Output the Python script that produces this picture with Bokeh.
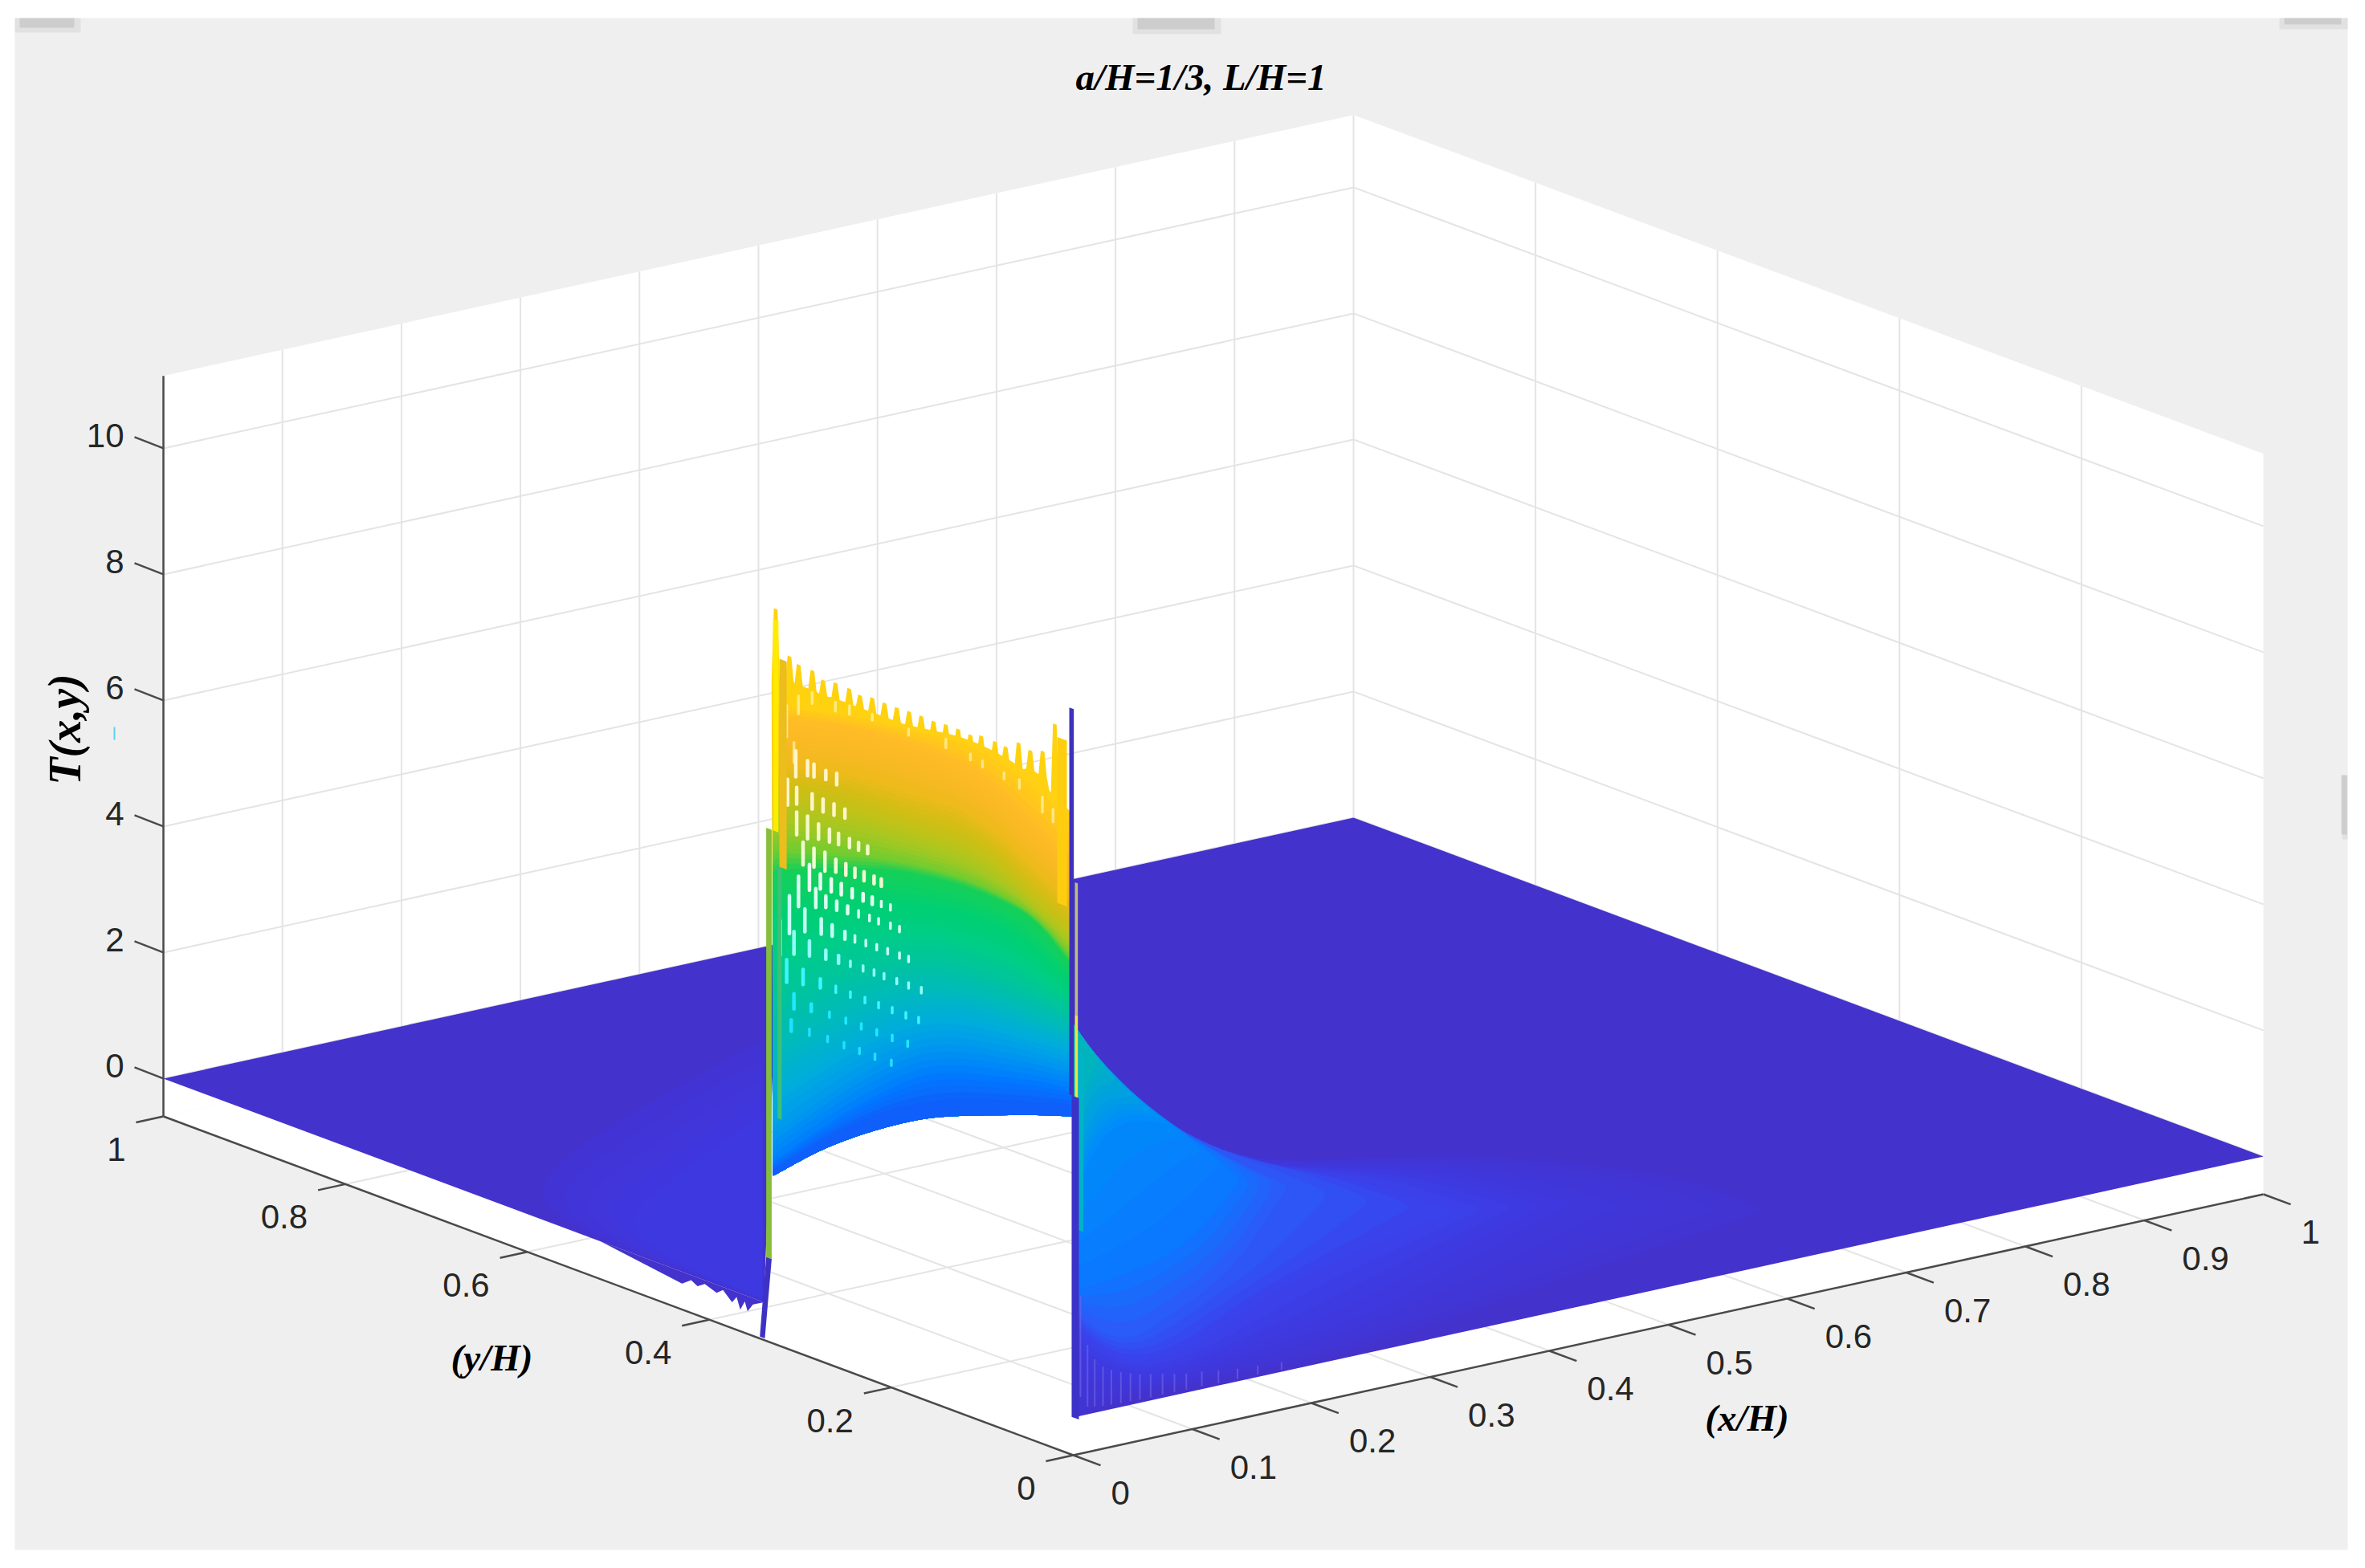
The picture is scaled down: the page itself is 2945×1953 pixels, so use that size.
from bokeh.plotting import figure
from bokeh.models import Range1d
from bokeh.core.properties import value
from bokeh.embed import file_html
from bokeh.resources import INLINE

TITLE = "a/H=1/3, L/H=1"
X_LABEL, Y_LABEL, Z_LABEL = "(x/H)", "(y/H)", "T(x,y)"
x_ticks = [0, .1, .2, .3, .4, .5, .6, .7, .8, .9, 1]
x_tick_labels = ["0", "0.1", "0.2", "0.3", "0.4", "0.5", "0.6", "0.7", "0.8", "0.9", "1"]
y_ticks = [0, .2, .4, .6, .8, 1]
y_tick_labels = ["0", "0.2", "0.4", "0.6", "0.8", "1"]
z_ticks = [0, 2, 4, 6, 8, 10]
z_tick_labels = ["0", "2", "4", "6", "8", "10"]
z_min, z_max = -0.6, 11.15

# ---- heated wall x/H = 0 : stations along y/H and T of each colour contour
wall_y = [0, .04, .08, .12, .16, .20, .24, .28, .33]
wall_levels = [
    ("#ffd014", [9.56, 9.92, 10.09, 10.14, 10.05, 9.96, 9.87, 9.72, 9.58]),
    ("#ffbc26", [8.86, 9.22, 9.58, 9.76, 9.77, 9.74, 9.65, 9.53, 9.32]),
    ("#f8b923", [8.54, 8.83, 9.19, 9.37, 9.37, 9.36, 9.29, 9.14, 8.94]),
    ("#eeba1c", [8.22, 8.51, 8.87, 9.05, 9.03, 9.00, 8.94, 8.82, 8.62]),
    ("#d2be14", [7.90, 8.19, 8.55, 8.73, 8.68, 8.64, 8.63, 8.54, 8.29]),
    ("#bec319", [7.64, 7.94, 8.29, 8.44, 8.40, 8.36, 8.33, 8.24, 8.04]),
    ("#a0c823", [7.45, 7.81, 8.04, 8.15, 8.13, 8.08, 8.01, 7.86, 7.65]),
    ("#6ecd32", [7.28, 7.74, 7.87, 7.92, 7.87, 7.78, 7.65, 7.47, 7.27]),
    ("#14d05a", [7.13, 7.68, 7.78, 7.79, 7.73, 7.62, 7.42, 7.21, 6.91]),
    ("#00d073", [6.85, 7.23, 7.40, 7.38, 7.29, 7.13, 6.91, 6.64, 6.24]),
    ("#00cd87", [6.62, 6.85, 6.95, 6.94, 6.85, 6.63, 6.37, 6.06, 5.54]),
    ("#00c3a0", [6.38, 6.50, 6.54, 6.51, 6.40, 6.14, 5.81, 5.42, 4.83]),
    ("#00b9be", [6.13, 6.14, 6.15, 6.10, 5.95, 5.63, 5.22, 4.72, 4.06]),
    ("#00acdc", [5.85, 5.81, 5.77, 5.69, 5.50, 5.13, 4.65, 4.08, 3.36]),
    ("#0096f0", [5.53, 5.47, 5.38, 5.27, 5.05, 4.64, 4.10, 3.50, 2.72]),
    ("#0078ff", [5.21, 5.12, 4.97, 4.82, 4.60, 4.15, 3.63, 3.05, 2.27]),
    ("#0f5ffa", [4.95, 4.79, 4.60, 4.41, 4.15, 3.81, 3.37, 2.86, 2.14]),
]
wall_lower_edge = [4.78, 4.59, 4.37, 4.15, 3.90, 3.56, 3.17, 2.73, 2.06]

# jagged top of the wall: y/H of each tooth, its peak T and the notch T after it
tooth_y = [.0203, .0337, .0472, .0601, .0743, .0860, .1012, .1130, .1265, .1400, .1535, .1670,
           .1804, .1939, .2074, .2209, .2344, .2462, .2613, .2749, .2867, .3018, .3119, .3271]
tooth_T = [10.89, 10.39, 10.33, 10.38, 10.24, 10.26, 10.27, 10.22, 10.24, 10.24, 10.22, 10.23,
           10.23, 10.22, 10.22, 10.23, 10.20, 10.24, 10.25, 10.22, 10.31, 10.32, 10.40, 11.07]
notch_T = [9.70, 10.00, 10.02, 9.98, 10.00, 10.00, 10.00, 10.00, 10.00, 10.00, 10.00, 10.00,
           10.00, 10.00, 10.00, 10.00, 10.00, 10.00, 10.00, 9.98, 10.00, 10.00, 10.02, 9.90]

# moire gaps of the mesh on the wall: (T, colour, y/H positions, slit lengths in T)
mesh_gaps = [
    (8.73, "#fff5c8", [.305, .292, .285, .272, .260], [.34, .20, .17, .12, .15]),
    (8.23, "#fff5c8", [.314, .304, .287, .275, .263, .251], [.34, .22, .20, .17, .15, .12]),
    (7.79, "#f4f8c8", [.304, .292, .280, .268, .258, .246, .236, .226], [.30, .30, .20, .17, .15, .12, .10, .10]),
    (7.35, "#f0fad2", [.297, .285, .273, .261, .250, .240, .230, .219, .211], [.30, .25, .25, .17, .15, .12, .12, .10, .10]),
    (7.01, "#e6fff0", [.290, .278, .266, .255, .243, .231, .221, .211, .201], [.34, .20, .17, .15, .12, .10, .10, .07, .06]),
    (6.72, "#d8fff0", [.302, .283, .272, .260, .248, .236, .224, .214, .201, .191], [.40, .25, .15, .12, .10, .09, .07, .07, .06, .05]),
    (6.30, "#c4fff4", [.312, .295, .277, .265, .251, .240, .228, .216, .204, .191, .181], [.50, .30, .20, .15, .10, .09, .07, .06, .05, .05, .04]),
    (5.88, "#90fff8", [.322, .307, .290, .272, .258, .245, .231, .219, .208, .194, .181, .167], [.45, .30, .20, .12, .10, .07, .06, .05, .05, .05, .04, .03]),
    (5.39, "#40f4ff", [.315, .297, .278, .261, .245, .229, .214, .199, .184, .170], [.30, .20, .12, .09, .06, .05, .05, .04, .04, .03]),
    (4.95, "#20e8ff", [.307, .288, .268, .250, .233, .216, .199, .182], [.20, .10, .07, .05, .04, .04, .03, .03]),
    (4.55, "#20e0ff", [.310, .290, .270, .252, .235, .218, .200], [.15, .09, .06, .05, .04, .04, .03]),
]
# pale slits just under the teeth
slit_y = [.302, .287, .2615, .246, .221, .181, .14, .113, .0997, .0761, .0593, .034, .0222, .315, .307]
slit_T = [9.68, 9.87, 9.87, 9.90, 9.92, 9.90, 9.94, 9.87, 9.83, 9.77, 9.73, 9.54, 9.43, 9.35, 8.90]
slit_L = [.28, .18, .14, .14, .10, .10, .14, .10, .10, .10, .14, .24, .20, .50, .32]

# coloured strips running up the wall edges: (colour, y/H start, y/H end, T low, T high)
wall_strips = [
    ("#3fc078", .3250, .3205, 3.0, 7.0),
    ("#ebbe1e", .3230, .3150, 7.0, 10.3),
    ("#86be3a", .3375, .3315, 0.73, 7.54),
    ("#ffeb00", .3300, .3240, 7.54, 10.9),
    ("#ffcd0f", .0176, .0070, 8.07, 10.70),
    ("#00b4c8", -.0050, -.0110, 3.0, 5.8),
    ("#3e32bc", .0044, -.0006, 5.10, 11.24),
    ("#3c32c8", .0018, -.0062, 0.0, 5.10),
    ("#bebe78", -.0018, -.0050, 6.40, 8.50),
    ("#f0e63c", -.0018, -.0050, 5.10, 6.40),
]
spike_y, spike_T = [.3445, .3390, .3315, .3375], [-.57, -.57, .73, .73]

# plane T = 0, outline in (x/H, y/H), open towards the notch in front of the wall
plane_x = [0, 1, 1, 0, .494, .337, 0]
plane_y = [1, 1, 0, 0, .646, .771, .34]
edge_teeth_y = [.52, .43, .42, .413, .405, .392, .385, .375, .370, .366, .361, .358, .352, .34]
edge_teeth_T = [0, -.19, -.08, -.14, -.06, -.13, -.05, -.19, -.08, -.26, -.10, -.24, -.10, 0]

# lobe on the y/H = 0 side of the wall: T upper and lower limits at stations of x/H
lobe_x = [0, .02, .05, .08, .11, .14, .18, .24, .32, .42, .52, .58]
lobe_bands = [
    ("#4234d2", [6.10, 5.53, 4.84, 4.29, 3.82, 3.53, 3.30, 3.12, 2.85, 2.30, 1.63, .87],
                [.03, .10, .15, .13, .10, .13, .10, .10, .28, .51, .73, .87]),
    ("#3f38de", [6.13, 5.56, 4.87, 4.31, 3.83, 3.49, 3.22, 2.97, 2.59, 1.66],
                [.85, .63, .32, .26, .32, .39, .48, .55, 1.05, 1.66]),
    ("#3a42ec", [6.15, 5.58, 4.88, 4.32, 3.85, 3.47, 3.15, 2.79, 1.95],
                [1.49, 1.02, .64, .64, .77, 1.03, 1.38, 1.64, 1.95]),
    ("#2a5cfa", [6.18, 5.60, 4.89, 4.32, 3.85, 3.44, 2.92],
                [1.74, 1.28, 1.02, 1.28, 1.54, 1.93, 2.92]),
    ("#0a78ff", [6.21, 5.61, 4.91, 4.32, 3.85, 3.20],
                [2.00, 2.04, 2.11, 2.24, 2.56, 3.20]),
    ("#008cfa", [6.23, 5.63, 4.92, 4.32], [3.41, 4.35, 4.55, 4.32]),
    ("#00a0e1", [6.24, 5.61, 4.89], [4.00, 4.95, 4.89]),
    ("#00b4be", [6.24, 5.61], [4.90, 5.55]),
]
# faint vertical mesh streaks low on the lobe: x/H, T top, T bottom
streak_x = [.006, .012, .018, .025, .032, .040, .048, .056, .065, .075, .085, .095, .108, .122, .138, .155, .175]
streak_top = [1.90, 1.10, .85, .70, .62, .55, .50, .45, .42, .38, .34, .30, .28, .24, .20, .18, .15]
streak_bot = [.30, .12, .10, .08, .07, .06, .06, .05, .05, .05, .05, .05, .05, .04, .04, .04, .03]

# soft halo on the plane left of the wall: (colour, y/H, T)
halo_bands = [
    ("#4234d4", [.342, .474, .606, .536, .43, .342], [4.13, 2.40, .40, .02, .02, .02]),
    ("#3e38e0", [.342, .43, .50, .43, .342], [2.97, 1.60, .42, .08, .05]),
]

# ---- page geometry of the box
ORIGIN = (1336, 1812)
VX = (1482, -325)
VY = (-1133, -422)
ZS = 78.5
INDIGO = "#4432cc"
GREY = "#efefef"
SUBSTEPS = 4


def pt(x, y, z):
    return (ORIGIN[0] + x * VX[0] + y * VY[0],
            ORIGIN[1] + x * VX[1] + y * VY[1] - (z - z_min) * ZS)


def path(xs, ys, zs):
    pts = [pt(a, b, c) for a, b, c in zip(xs, ys, zs)]
    return [q[0] for q in pts], [q[1] for q in pts]


def rounded(pts, n=3):
    """Corner cutting, ends kept: the drawn outline of a contour."""
    for _ in range(n):
        out = [pts[0]]
        for a, b in zip(pts[:-1], pts[1:]):
            out.append((.75 * a[0] + .25 * b[0], .75 * a[1] + .25 * b[1]))
            out.append((.25 * a[0] + .75 * b[0], .25 * a[1] + .75 * b[1]))
        out.append(pts[-1])
        pts = out
    return pts


def even(pts, m=70):
    """Same outline with m evenly spaced vertices, so two outlines can be shaded between."""
    d = [0.0]
    for a, b in zip(pts[:-1], pts[1:]):
        d.append(d[-1] + ((a[0] - b[0]) ** 2 + (a[1] - b[1]) ** 2) ** .5)
    out, j = [], 0
    for i in range(m):
        s = d[-1] * i / (m - 1)
        while j < len(d) - 2 and d[j + 1] < s:
            j += 1
        f = (s - d[j]) / max(d[j + 1] - d[j], 1e-9)
        out.append((pts[j][0] + f * (pts[j + 1][0] - pts[j][0]), pts[j][1] + f * (pts[j + 1][1] - pts[j][1])))
    return out


def hexmix(c0, c1, f):
    a = [int(c0[i:i + 2], 16) for i in (1, 3, 5)]
    b = [int(c1[i:i + 2], 16) for i in (1, 3, 5)]
    return "#%02x%02x%02x" % tuple(round(u + f * (v - u)) for u, v in zip(a, b))


def shaded(outlines, colours):
    """Fill nested outlines from first to last, shading the colour between them."""
    xs, ys, cs = [], [], []
    for k in range(len(outlines)):
        steps = SUBSTEPS if k + 1 < len(outlines) else 1
        for s in range(steps):
            f = s / steps
            o0 = outlines[k]
            o1 = outlines[k + 1] if k + 1 < len(outlines) else o0
            xs.append([a[0] + f * (b[0] - a[0]) for a, b in zip(o0, o1)])
            ys.append([a[1] + f * (b[1] - a[1]) for a, b in zip(o0, o1)])
            cs.append(hexmix(colours[k], colours[k + 1] if k + 1 < len(outlines) else colours[k], f))
    p.patches(xs, ys, fill_color=cs, line_color=cs, line_width=1)


p = figure(width=2929, height=1937, x_range=Range1d(0, 2929), y_range=Range1d(1937, 0),
           output_backend="svg", toolbar_location=None, min_border=0,
           background_fill_color="white", border_fill_color="white")
p.axis.visible = False
p.grid.visible = False
p.outline_line_color = None

# grey figure window and the scanner smudges on its edge
p.quad(left=[18], right=[2923], top=[22], bottom=[1930], fill_color=GREY, line_color=None)
for l, r, t, b in [(18, 100, 22, 40), (1410, 1520, 22, 42), (2838, 2923, 22, 36), (2916, 2923, 965, 1045)]:
    p.quad(left=[l], right=[r], top=[t], bottom=[b], fill_color="#b8b8b8", fill_alpha=.25, line_color=None)
    p.quad(left=[l + 6], right=[r - 8], top=[t], bottom=[b - 6], fill_color="#a8a8a8", fill_alpha=.35, line_color=None)

# box walls and floor
for xs, ys, zs in [([0, 1, 1, 0], [1, 1, 1, 1], [z_min, z_min, z_max, z_max]),
                   ([1, 1, 1, 1], [1, 0, 0, 1], [z_min, z_min, z_max, z_max]),
                   ([0, 1, 1, 0], [0, 0, 1, 1], [z_min] * 4)]:
    a, b = path(xs, ys, zs)
    p.patch(a, b, fill_color="white", line_color=None)

# grid lines
gx, gy = [], []
for t in x_ticks[1:-1]:
    a, b = path([t, t], [1, 1], [z_min, z_max]); gx.append(a); gy.append(b)
    a, b = path([t, t], [0, 1], [z_min, z_min]); gx.append(a); gy.append(b)
for t in y_ticks[1:-1]:
    a, b = path([1, 1], [t, t], [z_min, z_max]); gx.append(a); gy.append(b)
    a, b = path([0, 1], [t, t], [z_min, z_min]); gx.append(a); gy.append(b)
for t in z_ticks:
    a, b = path([0, 1, 1], [1, 1, 0], [t, t, t]); gx.append(a); gy.append(b)
a, b = path([1, 1], [1, 1], [z_min, z_max]); gx.append(a); gy.append(b)
p.multi_line(gx, gy, line_color="#e4e4e4", line_width=2)

# surface: plane, halo, lobe
a, b = path(plane_x, plane_y, [0] * len(plane_x))
p.patch(a, b, fill_color=INDIGO, line_color=None)
a, b = path([0] * len(edge_teeth_y), edge_teeth_y, edge_teeth_T)
p.patch(a, b, fill_color=INDIGO, line_color=None)

outlines = []
for col, ys, ts in halo_bands:
    outlines.append(even(rounded(list(zip(*path([0] * len(ys), ys, ts))))))
shaded(outlines, [c[0] for c in halo_bands])

outlines = []
for col, up, lo in lobe_bands:
    n = len(up)
    xs = lobe_x[:n] + lobe_x[:n][::-1]
    outlines.append(even(rounded(list(zip(*path(xs, [0] * 2 * n, up + lo[::-1]))))))
shaded(outlines, [c[0] for c in lobe_bands])

sx, sy = [], []
for s, t0, t1 in zip(streak_x, streak_top, streak_bot):
    a, b = path([s, s], [0, 0], [t0, t1]); sx.append(a); sy.append(b)
p.multi_line(sx, sy, line_color="#7468e8", line_width=2, line_alpha=.6)

# the wall itself
top_y, top_T = [], []
for a1, b1, c1 in zip(tooth_y, tooth_T, notch_T):
    top_y += [a1 - .0045, a1 - .002, a1 + .002, a1 + .0045]
    top_T += [c1, b1, b1, c1]
low = rounded(list(zip(*path([0] * len(wall_y), wall_y, wall_lower_edge))))
tp = list(zip(*path([0] * len(top_y), top_y, top_T)))
p.patch([q[0] for q in tp + low[::-1]], [q[1] for q in tp + low[::-1]], fill_color="#ffd20f", line_color=None)

outlines, cols = [], []
for col, lev in wall_levels:
    c = rounded(list(zip(*path([0] * len(wall_y), wall_y, lev))))
    outlines.append(even(c + low[::-1], 160))
    cols.append(col)
shaded(outlines, cols)

sl_x, sl_y = [], []
for s, t, l in zip(slit_y, slit_T, slit_L):
    a, b = path([0, 0], [s, s], [t + l / 2, t - l / 2]); sl_x.append(a); sl_y.append(b)
p.multi_line(sl_x, sl_y, line_color="#fff3b0", line_width=3.5, line_alpha=.7, line_cap="round")

gap_x, gap_y, gap_c, gap_w = [], [], [], []
for t, col, ys, ls in mesh_gaps:
    for s, l in zip(ys, ls):
        ln = max(l * 1.2, .09)
        a, b = path([0, 0], [s, s], [t + ln / 2, t - ln / 2])
        gap_x.append(a); gap_y.append(b); gap_c.append(col)
        gap_w.append(4.5 if l > .09 else 3.5)
p.multi_line(gap_x, gap_y, line_color=gap_c, line_width=gap_w, line_cap="round")

for col, y0, y1, t0, t1 in wall_strips:
    a, b = path([0] * 4, [y0, y1, y1, y0], [t0, t0, t1, t1])
    p.patch(a, b, fill_color=col, line_color=None)
a, b = path([0] * 4, spike_y, spike_T)
p.patch(a, b, fill_color="#3e32c4", line_color=None)

# axes
ax = []
ay = []
a, b = path([0, 1], [0, 0], [z_min, z_min]); ax.append(a); ay.append(b)
a, b = path([0, 0], [0, 1], [z_min, z_min]); ax.append(a); ay.append(b)
a, b = path([0, 0], [1, 1], [z_min, z_max]); ax.append(a); ay.append(b)
for t in x_ticks:
    a, b = path([t, t], [0, -.03], [z_min, z_min]); ax.append(a); ay.append(b)
for t in y_ticks:
    a, b = path([0, -.023], [t, t], [z_min, z_min]); ax.append(a); ay.append(b)
for t in z_ticks:
    q = pt(0, 1, t)
    ax.append([q[0], q[0] - 36]); ay.append([q[1], q[1] - 14])
p.multi_line(ax, ay, line_color="#4a4a4a", line_width=2.5)

TICK_FONT = value("Liberation Sans")
tk = dict(text_font=TICK_FONT, text_font_size=value("42px"), text_color="#262626", text_baseline="middle")
q = [pt(t, 0, z_min) for t in x_ticks]
p.text([c[0] + 47 for c in q], [c[1] + 47 for c in q], text=x_tick_labels, text_align="left", **tk)
q = [pt(0, t, z_min) for t in y_ticks]
p.text([c[0] - 47 for c in q], [c[1] + 41 for c in q], text=y_tick_labels, text_align="right", **tk)
q = [pt(0, 1, t) for t in z_ticks]
p.text([c[0] - 49 for c in q], [c[1] - 16 for c in q], text=z_tick_labels, text_align="right", **tk)

lab = dict(text_font=value("Liberation Serif"), text_font_style="bold italic", text_color="black",
           text_align="center", text_baseline="middle")
p.text([1495], [95], text=[TITLE], text_font_size=value("47px"), **lab)
p.text([612], [1690], text=[Y_LABEL], text_font_size=value("47px"), **lab)
p.text([2175], [1765], text=[X_LABEL], text_font_size=value("47px"), **lab)
p.text([80], [908], text=[Z_LABEL], text_font_size=value("56px"), angle=1.5708, **lab)
p.segment([142], [905], [142], [921], line_color="#60d0f0", line_width=2)

open("out.html", "w").write(file_html(p, INLINE))
